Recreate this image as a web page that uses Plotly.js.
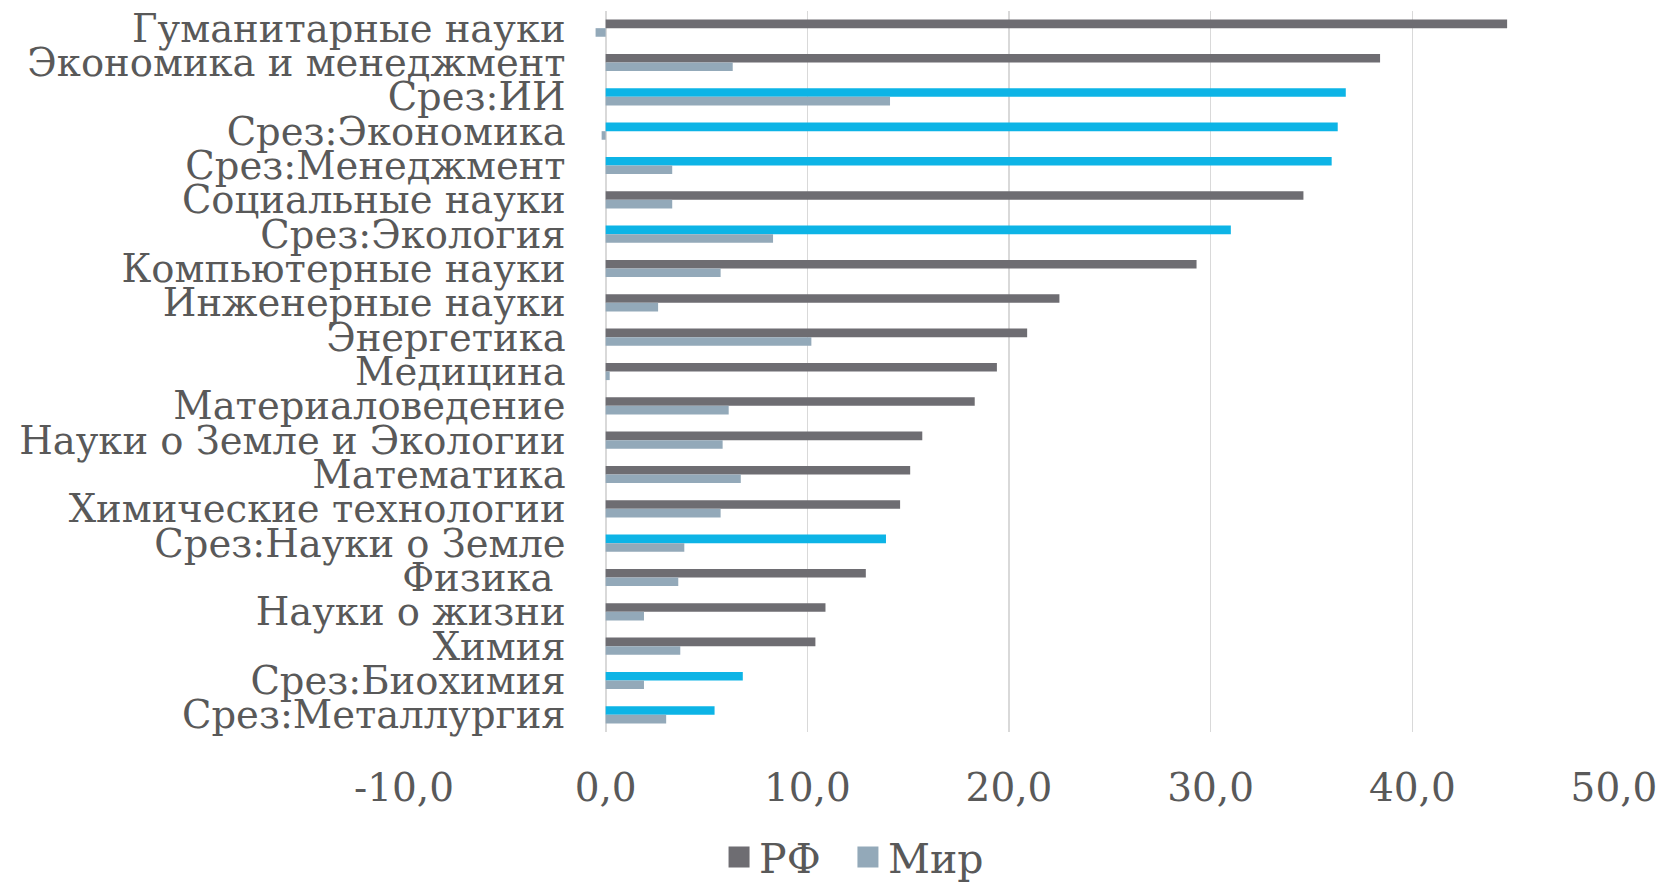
<!DOCTYPE html>
<html>
<head>
<meta charset="utf-8">
<script src="https://cdn.plot.ly/plotly-3.0.1.min.js"></script>
<style>
  html, body { margin: 0; padding: 0; background: #ffffff; }
  #chart { width: 1661px; height: 882px; }
</style>
</head>
<body>
<div id="chart"></div>
<script>
// Subject areas, top to bottom
const categories = [
  'Гуманитарные науки',
  'Экономика и менеджмент',
  'Срез:ИИ',
  'Срез:Экономика',
  'Срез:Менеджмент',
  'Социальные науки',
  'Срез:Экология',
  'Компьютерные науки',
  'Инженерные науки',
  'Энергетика',
  'Медицина',
  'Материаловедение',
  'Науки о Земле и Экологии',
  'Математика',
  'Химические технологии',
  'Срез:Науки о Земле',
  'Физика\u00a0',
  'Науки о жизни',
  'Химия',
  'Срез:Биохимия',
  'Срез:Металлургия'
];

// Russia
const rfValues = [44.7, 38.4, 36.7, 36.3, 36.0, 34.6, 31.0, 29.3, 22.5, 20.9, 19.4,
                  18.3, 15.7, 15.1, 14.6, 13.9, 12.9, 10.9, 10.4, 6.8, 5.4];
// World
const worldValues = [-0.5, 6.3, 14.1, -0.2, 3.3, 3.3, 8.3, 5.7, 2.6, 10.2, 0.2,
                     6.1, 5.8, 6.7, 5.7, 3.9, 3.6, 1.9, 3.7, 1.9, 3.0];

const seriesNames = ['РФ', 'Мир'];

// value axis ticks
const xTickValues = [-10, 0, 10, 20, 30, 40, 50];
const xTickLabels = ['-10,0', '0,0', '10,0', '20,0', '30,0', '40,0', '50,0'];

const GRAY = '#6e6d72';
const BLUE = '#0db4e6';
const STEEL = '#93a9b9';
const TEXT = '#595959';
const FONT = 'DejaVu Serif, Liberation Serif, serif';

// "Срез:" rows are highlighted in blue
const rfColors = categories.map(c => c.startsWith('Срез:') ? BLUE : GRAY);

const traces = [
  {
    type: 'bar', orientation: 'h', name: seriesNames[0],
    y: categories, x: rfValues,
    marker: { color: rfColors },
    legend: 'legend',
    hoverinfo: 'x+y'
  },
  {
    type: 'bar', orientation: 'h', name: seriesNames[1],
    y: categories, x: worldValues,
    marker: { color: STEEL },
    legend: 'legend2',
    hoverinfo: 'x+y'
  }
];

const legendStyle = {
  orientation: 'h', xref: 'container', yref: 'container',
  xanchor: 'left', yanchor: 'middle', y: 0.028,
  font: { family: FONT, size: 41, color: TEXT },
  bgcolor: 'rgba(0,0,0,0)'
};

const layout = {
  width: 1661, height: 882,
  margin: { l: 404, r: 47, t: 11, b: 150, pad: 0 },
  paper_bgcolor: '#ffffff', plot_bgcolor: '#ffffff',
  barmode: 'group', bargap: 0.5, bargroupgap: 0,
  font: { family: FONT, color: TEXT, size: 40 },
  xaxis: {
    range: [-10, 50],
    tickmode: 'array', tickvals: xTickValues, ticktext: xTickLabels,
    showgrid: true, gridcolor: '#d9d9d9', gridwidth: 1.3,
    zeroline: true, zerolinecolor: '#d9d9d9', zerolinewidth: 2,
    showline: false, ticks: '', ticklabelstandoff: 29,
    tickfont: { family: FONT, size: 39, color: TEXT },
    automargin: false, fixedrange: true
  },
  yaxis: {
    type: 'category', autorange: 'reversed',
    tickmode: 'array', tickvals: categories, ticktext: categories,
    anchor: 'free', position: 1 / 6,
    showgrid: false, zeroline: false, showline: false,
    ticks: '', ticklabelstandoff: 40,
    tickfont: { family: FONT, size: 38.5, color: TEXT },
    automargin: false, fixedrange: true
  },
  showlegend: true,
  legend: Object.assign({}, legendStyle, { x: 0.4329 }),
  legend2: Object.assign({}, legendStyle, { x: 0.5105 })
};

Plotly.newPlot('chart', traces, layout, { staticPlot: true, displayModeBar: false }).then(() => {
  // larger legend swatches
  document.querySelectorAll('.legendpoints path').forEach(p => {
    p.setAttribute('d', 'M10.5,10.5H-10.5V-10.5H10.5Z');
  });
});
</script>
</body>
</html>
